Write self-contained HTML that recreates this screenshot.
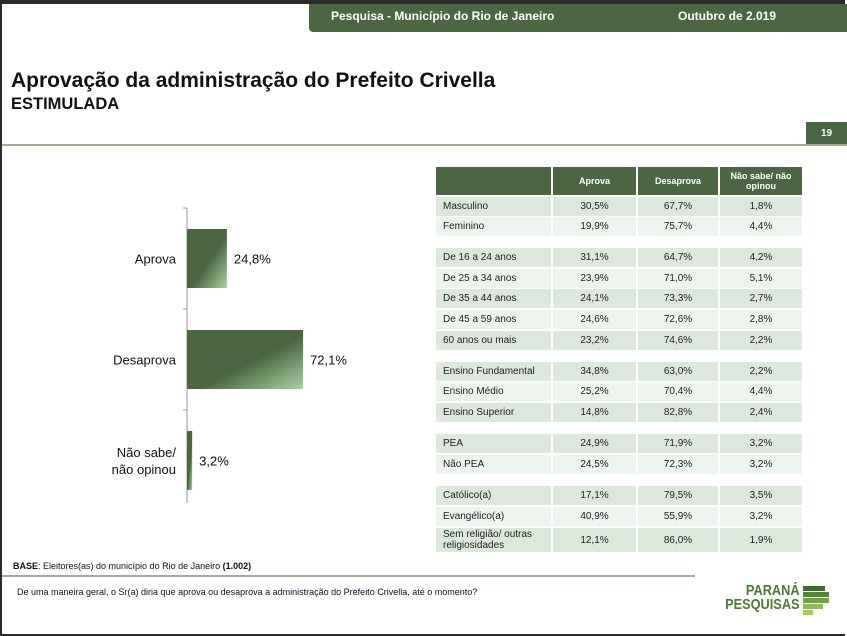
<!DOCTYPE html>
<html><head><meta charset="utf-8"><style>
body{margin:0;width:847px;height:636px;overflow:hidden;font-family:"Liberation Sans",sans-serif;background:#fff;position:relative}
.frame{position:absolute;left:0;top:0;width:843px;height:630px;border:2px solid #2b2b2b;border-top-width:4px;border-right:none}
.abs{position:absolute}
.cell{position:absolute;font-size:10px;color:#222;display:flex;align-items:center}
.c{justify-content:center}
</style></head><body>
<div class="frame"></div>
<div class="abs" style="left:309px;top:4px;width:538px;height:28px;background:#4a6741;border-bottom-left-radius:4px"></div>
<div class="abs" style="left:331px;top:9px;color:#fff;font-size:12px;font-weight:bold">Pesquisa - Município do Rio de Janeiro</div>
<div class="abs" style="left:678px;top:9px;color:#fff;font-size:12px;font-weight:bold">Outubro de 2.019</div>
<div class="abs" style="left:11px;top:69px;font-size:21px;font-weight:bold;color:#111">Aprovação da administração do Prefeito Crivella</div>
<div class="abs" style="left:11px;top:95px;font-size:16.5px;font-weight:bold;color:#111">ESTIMULADA</div>
<div class="abs" style="left:806px;top:122px;width:41px;height:22px;background:#4a6741;color:#fff;font-size:10px;font-weight:bold;display:flex;align-items:center;justify-content:center">19</div>
<div class="abs" style="left:2px;top:144px;width:845px;height:2px;background:#9cb08f"></div>

<svg class="abs" id="chart" style="left:0;top:190px" width="420" height="320"></svg>

<div id="tbl"></div>

<div class="abs" style="left:13px;top:561px;font-size:9px;color:#111"><b>BASE</b>: Eleitores(as) do município do Rio de Janeiro <b>(1.002)</b></div>
<div class="abs" style="left:2px;top:575px;width:693px;height:2px;background:#9cb08f"></div>
<div class="abs" style="left:17px;top:587px;font-size:9px;color:#111">De uma maneira geral, o Sr(a) diria que aprova ou desaprova a administração do Prefeito Crivella, até o momento?</div>
<div class="abs" style="left:735px;top:584px;width:100px;height:40px">
 <div style="position:absolute;right:35px;top:0;font-size:15px;font-weight:bold;color:#4a7a2e;line-height:14px;text-align:right;transform:scaleX(.85);transform-origin:right">PARANÁ<br>PESQUISAS</div>
 <div style="position:absolute;left:68px;top:2px;width:22px;height:5px;background:#3c6e2a"></div>
 <div style="position:absolute;left:68px;top:8px;width:26px;height:5px;background:#4f8a33"></div>
 <div style="position:absolute;left:68px;top:14px;width:26px;height:5px;background:#6ea33f"></div>
 <div style="position:absolute;left:68px;top:20px;width:20px;height:5px;background:#8bbd4c"></div>
 <div style="position:absolute;left:68px;top:26px;width:10px;height:5px;background:#a4cc5e"></div>
</div>

<script>
const categories=["Aprova","Desaprova","Não sabe/\nnão opinou"];
const values=[24.8,72.1,3.2];
const valueLabels=["24,8%","72,1%","3,2%"];
const NS="http://www.w3.org/2000/svg";
const svg=document.getElementById('chart');
const x0=187, scale=1.61, bandTop=18, band=101, barH=59;
const xS=v=>x0+v*scale;
const yS=i=>bandTop+i*band;
svg.innerHTML='<defs><linearGradient id="g" x1="0" y1="0" x2="1" y2="1"><stop offset="0" stop-color="#4a6741"/><stop offset="0.55" stop-color="#4a6741"/><stop offset="1" stop-color="#a9d2a4"/></linearGradient></defs>';
const ax=document.createElementNS(NS,'line');


ax.setAttribute('x1',x0);ax.setAttribute('x2',x0);ax.setAttribute('y1',yS(0));ax.setAttribute('y2',yS(categories.length)-8);ax.setAttribute('stroke','#999');
svg.appendChild(ax);
for(let i=0;i<categories.length;i++){
 const t=document.createElementNS(NS,'line');
 
 
 t.setAttribute('x1',x0-4);t.setAttribute('x2',x0);t.setAttribute('y1',yS(i));t.setAttribute('y2',yS(i));t.setAttribute('stroke','#999');
 svg.appendChild(t);
}
categories.forEach((c,i)=>{
 const y=yS(i)+(band-barH)/2;
 const r=document.createElementNS(NS,'rect');
 
 
 r.setAttribute('x',x0);r.setAttribute('y',y);r.setAttribute('width',xS(values[i])-x0);r.setAttribute('height',barH);r.setAttribute('fill','url(#g)');
 svg.appendChild(r);
 const v=document.createElementNS(NS,'text');
 
 
 v.setAttribute('x',xS(values[i])+7);v.setAttribute('y',y+barH/2+5);v.setAttribute('font-size','13');v.setAttribute('fill','#111');
 v.textContent=valueLabels[i];svg.appendChild(v);
 const lines=c.split('\n');
 lines.forEach((ln,k)=>{
  const t=document.createElementNS(NS,'text');
  
  
  t.setAttribute('x',176);t.setAttribute('y',y+barH/2+5+(k-(lines.length-1)/2)*17);t.setAttribute('text-anchor','end');t.setAttribute('font-size','13');t.setAttribute('fill','#111');
  t.textContent=ln;svg.appendChild(t);
 });
});

const rowLabels=["Masculino","Feminino","De 16 a 24 anos","De 25 a 34 anos","De 35 a 44 anos","De 45 a 59 anos","60 anos ou mais","Ensino Fundamental","Ensino Médio","Ensino Superior","PEA","Não PEA","Católico(a)","Evangélico(a)","Sem religião/ outras religiosidades"];
const aprova=["30,5%","19,9%","31,1%","23,9%","24,1%","24,6%","23,2%","34,8%","25,2%","14,8%","24,9%","24,5%","17,1%","40,9%","12,1%"];
const desaprova=["67,7%","75,7%","64,7%","71,0%","73,3%","72,6%","74,6%","63,0%","70,4%","82,8%","71,9%","72,3%","79,5%","55,9%","86,0%"];
const naoSabe=["1,8%","4,4%","4,2%","5,1%","2,7%","2,8%","2,2%","2,2%","4,4%","2,4%","3,2%","3,2%","3,5%","3,2%","1,9%"];
const rowTops=[197,217,248,269,289,310,331,362,382,403,434,455,486,507,528];
const cols=[[436,115],[553,83],[638,80],[720,82]];
const tbl=document.getElementById('tbl');
const heads=["","Aprova","Desaprova","Não sabe/ não opinou"];
heads.forEach((h,j)=>{
 const d=document.createElement('div');
 
 
 d.className='cell c';
 d.style.cssText+=`left:${cols[j][0]}px;top:167px;width:${cols[j][1]}px;height:28px;background:#4a6741;color:#fff;font-weight:bold;font-size:9px;text-align:center;line-height:10px`;
 d.textContent=h;tbl.appendChild(d);
});
const firstInGroup=[0,2,7,10,12];
let shade=0;
rowLabels.forEach((lab,i)=>{
 if(firstInGroup.includes(i)) shade=0; else shade++;
 const bg=shade%2==0?'#dce8dc':'#edf4ed';
 const h=i==14?24:19;
 const vals=[lab,aprova[i],desaprova[i],naoSabe[i]];
 vals.forEach((v,j)=>{
  const d=document.createElement('div');
  
  
  d.className='cell'+(j?' c':'');
  d.style.cssText+=`left:${cols[j][0]}px;top:${rowTops[i]}px;width:${cols[j][1]-(j?0:7)}px;height:${h}px;background:${bg};padding-left:${j?0:7}px;line-height:11px`;
  d.textContent=v;tbl.appendChild(d);
 });
});
</script>
</body></html>
